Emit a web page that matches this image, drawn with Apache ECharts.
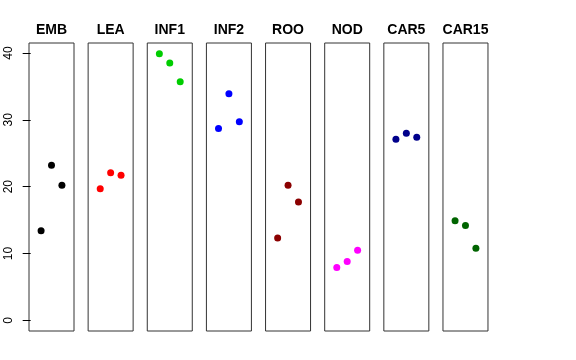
<!DOCTYPE html>
<html>
<head>
<meta charset="utf-8">
<script src="https://cdn.jsdelivr.net/npm/echarts@6/dist/echarts.min.js"></script>
<style>
html,body{margin:0;padding:0;background:#fff;}
#chart{width:576px;height:360px;}
</style>
</head>
<body>
<div id="chart"></div>
<script>
// ---- data ----
var categories = ['EMB', 'LEA', 'INF1', 'INF2', 'ROO', 'NOD', 'CAR5', 'CAR15'];
var replicate = [1, 2, 3];
var EMB = [13.4, 23.2, 20.2];
var LEA = [19.7, 22.1, 21.7];
var INF1 = [39.9, 38.5, 35.7];
var INF2 = [28.7, 33.9, 29.7];
var ROO = [12.3, 20.2, 17.7];
var NOD = [7.9, 8.8, 10.5];
var CAR5 = [27.1, 28.0, 27.4];
var CAR15 = [14.9, 14.2, 10.8];
var yTicks = [0, 10, 20, 30, 40];

// ---- style ----
var seriesValues = [EMB, LEA, INF1, INF2, ROO, NOD, CAR5, CAR15];
var colors = ['#000000', '#FF0000', '#00CD00', '#0000FF', '#8B0000', '#FF00FF', '#00008B', '#006400'];
var FONT = '"Liberation Sans", Arial, Helvetica, sans-serif';

var grids = [], xAxes = [], yAxes = [], series = [];
var panelLeft0 = 29, panelStep = 59.14, panelW = 45, panelTop = 43, panelH = 288;
categories.forEach(function (cat, i) {
  grids.push({
    left: panelLeft0 + i * panelStep, top: panelTop, width: panelW, height: panelH,
    show: true, borderColor: '#333', borderWidth: 1, backgroundColor: 'transparent'
  });
  xAxes.push({
    gridIndex: i, type: 'value', min: -0.16, max: 4.16, position: 'top',
    name: cat, nameLocation: 'middle', nameGap: 6,
    nameTextStyle: { fontFamily: FONT, fontWeight: 'bold', fontSize: 14, color: '#000' },
    axisLine: { show: false }, axisTick: { show: false }, axisLabel: { show: false },
    splitLine: { show: false }
  });
  var first = i === 0;
  yAxes.push({
    gridIndex: i, type: 'value', min: -1.6, max: 41.5,
    axisLine: { show: false },
    axisTick: { show: first, length: 8, customValues: yTicks, lineStyle: { color: '#000' } },
    axisLabel: {
      show: first, customValues: yTicks, rotate: 90, margin: 14,
      fontFamily: FONT, fontSize: 12, color: '#000'
    },
    splitLine: { show: false }
  });
  series.push({
    type: 'scatter', xAxisIndex: i, yAxisIndex: i,
    symbol: 'circle', symbolSize: 7,
    itemStyle: { color: colors[i], opacity: 1 },
    data: seriesValues[i].map(function (v, j) { return [replicate[j], v]; }),
    silent: true
  });
});

var chart = echarts.init(document.getElementById('chart'), null, { renderer: 'canvas' });
chart.setOption({
  animation: false,
  backgroundColor: '#fff',
  grid: grids, xAxis: xAxes, yAxis: yAxes, series: series
});
</script>
</body>
</html>
